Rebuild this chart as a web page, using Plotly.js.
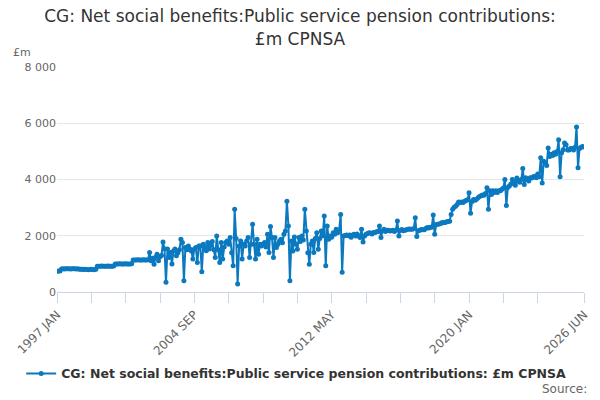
<!DOCTYPE html>
<html>
<head>
<meta charset="utf-8">
<script src="https://cdn.plot.ly/plotly-3.0.1.min.js"></script>
<style>
  html, body { margin: 0; padding: 0; background: #fff; }
  #chart { width: 600px; height: 400px; }
</style>
</head>
<body>
<div id="chart"></div>
<script>
// months of the category axis, 1997 JAN .. 2026 JUN
const firstYear = 1997;
const lastYear = 2026;
const lastMonthCount = 6;
const monthNames = ['JAN', 'FEB', 'MAR', 'APR', 'MAY', 'JUN', 'JUL', 'AUG', 'SEP', 'OCT', 'NOV', 'DEC'];

// £m, one row per year (Jan..Dec)
const pensionContrib = [
  740, 745, 750, 820, 825, 820, 825, 830, 825, 820, 825, 830,             // 1997
  825, 820, 830, 810, 805, 810, 800, 805, 800, 795, 800, 805,             // 1998
  800, 795, 805, 920, 915, 920, 925, 920, 915, 920, 925, 920,             // 1999
  915, 920, 925, 1000, 995, 1000, 1005, 1000, 995, 1000, 1005, 1000,      // 2000
  995, 1000, 1005, 1140, 1135, 1140, 1145, 1140, 1135, 1140, 1145, 1140,  // 2001
  1140, 1145, 1405, 1110, 1200, 990, 1235, 1345, 1110, 1250, 1300, 1780,  // 2002
  1535, 343, 1530, 1230, 1405, 1000, 1460, 1530, 1285, 1400, 1500, 1876,  // 2003
  1760, 400, 1580, 1500, 1640, 1530, 1460, 1170, 1530, 1580, 1050, 1640,  // 2004
  1640, 720, 1700, 1600, 1470, 1760, 1530, 1650, 1800, 1500, 1230, 1993,  // 2005
  1500, 1050, 1760, 1170, 1600, 1760, 1816, 1700, 1935, 1400, 930, 2938,  // 2006
  1900, 283, 1640, 1816, 1170, 1700, 1640, 1816, 1935, 1230, 1700, 2407,  // 2007
  1700, 1170, 1876, 1345, 1700, 1640, 1700, 1760, 1600, 2053, 1405, 2325, // 2008
  1935, 1230, 1935, 1580, 1700, 1816, 1876, 1750, 2053, 2170, 3230, 2350, // 2009
  400, 1816, 1460, 1960, 1700, 1520, 1935, 1800, 1993, 1850, 2940, 2170,  // 2010
  1400, 990, 1700, 1816, 1405, 1900, 2110, 1520, 1900, 2170, 2000, 2700,  // 2011
  930, 2350, 1876, 1993, 1950, 2110, 2050, 2230, 2110, 2200, 2760, 700,   // 2012
  1990, 2010, 2030, 2000, 2030, 1950, 2030, 2050, 1990, 2060, 1990, 1935, // 2013
  2230, 1780, 1990, 2050, 2080, 2110, 2100, 2060, 2120, 2120, 2140, 2150, // 2014
  2350, 1935, 2180, 2230, 2150, 2200, 2200, 2170, 2180, 2200, 2150, 2200, // 2015
  2525, 1990, 2200, 2220, 2180, 2200, 2210, 2230, 2240, 2230, 2230, 2260, // 2016
  2640, 1970, 2180, 2200, 2220, 2210, 2210, 2260, 2290, 2280, 2300, 2300, // 2017
  2740, 2050, 2400, 2407, 2420, 2440, 2470, 2460, 2467, 2500, 2510, 2520, // 2018
  2760, 2940, 3010, 3050, 3115, 3200, 3180, 3200, 3180, 3230, 3250, 3280, // 2019
  3530, 2800, 3220, 3290, 3260, 3300, 3350, 3400, 3420, 3450, 3440, 3500, // 2020
  3706, 2940, 3600, 3470, 3600, 3540, 3600, 3540, 3600, 3600, 3650, 3700, // 2021
  4000, 3080, 3720, 3765, 3840, 4000, 3900, 3800, 4050, 3940, 3900, 4000, // 2022
  4390, 3820, 4060, 4000, 3950, 4060, 4050, 4100, 4120, 4060, 4200, 4100, // 2023
  4770, 3880, 4650, 4600, 4500, 5120, 4820, 4900, 4850, 4950, 4900, 5000, // 2024
  5415, 4100, 4950, 5060, 5300, 5240, 5050, 5050, 5100, 5100, 5050, 5150, // 2025
  5870, 4420, 5100, 5150, 5170, 5160                                      // 2026
];

// axis ticks
const xTickMonths = ['1997 JAN', '1998 DEC', '2000 NOV', '2002 OCT', '2004 SEP', '2006 AUG', '2008 JUL',
  '2010 JUN', '2012 MAY', '2014 APR', '2016 MAR', '2018 FEB', '2020 JAN', '2021 DEC', '2023 NOV', '2026 JUN'];
const xTickLabels = ['1997 JAN', '', '', '', '2004 SEP', '', '', '', '2012 MAY', '', '', '', '2020 JAN', '', '', '2026 JUN'];
const yTickVals = [0, 2000, 4000, 6000, 8000];
const yTickLabels = ['0', '2 000', '4 000', '6 000', '8 000'];

const seriesName = 'CG: Net social benefits:Public service pension contributions: £m CPNSA';
const lineColor = '#0b79c0';

const months = [];
for (let y = firstYear; y <= lastYear; y++) {
  const n = y === lastYear ? lastMonthCount : 12;
  for (let m = 0; m < n; m++) months.push(y + ' ' + monthNames[m]);
}

const font = 'DejaVu Sans, Verdana, sans-serif';

const trace = {
  x: months,
  y: pensionContrib,
  name: '<b>' + seriesName + '</b>',
  type: 'scatter',
  mode: 'lines+markers',
  line: { color: lineColor, width: 2 },
  marker: { color: lineColor, size: 5 },
  hoverinfo: 'skip'
};

const layout = {
  width: 600,
  height: 400,
  margin: { l: 57, r: 16, t: 67, b: 107 },
  paper_bgcolor: '#ffffff',
  plot_bgcolor: '#ffffff',
  font: { family: font, color: '#666666', size: 11 },
  title: {
    text: 'CG: Net social benefits:Public service pension contributions:<br>£m CPNSA',
    font: { family: font, size: 17, color: '#333333' },
    x: 0.5,
    xanchor: 'center',
    yref: 'container',
    y: 0.944,
    yanchor: 'middle'
  },
  xaxis: {
    type: 'category',
    range: [0, months.length - 1],
    tickmode: 'array',
    tickvals: xTickMonths,
    ticktext: xTickLabels,
    tickangle: -45,
    ticks: 'outside',
    ticklen: 10,
    tickcolor: '#ccd6eb',
    showline: true,
    linecolor: '#ccd6eb',
    showgrid: false,
    zeroline: false,
    tickfont: { family: font, size: 12, color: '#666666' }
  },
  yaxis: {
    range: [0, 8000],
    tickmode: 'array',
    tickvals: yTickVals,
    ticktext: yTickLabels,
    showgrid: true,
    gridcolor: '#e6e6e6',
    zeroline: false,
    showline: false,
    ticks: '',
    tickfont: { family: font, size: 11, color: '#666666' }
  },
  showlegend: true,
  legend: {
    orientation: 'h',
    x: -0.068,
    xanchor: 'left',
    y: -0.358,
    yanchor: 'middle',
    font: { family: font, size: 12.5, color: '#333333' }
  },
  annotations: [
    {
      text: '£m',
      xref: 'paper', yref: 'paper',
      x: -0.087, y: 1.066,
      xanchor: 'left', yanchor: 'middle',
      showarrow: false,
      font: { family: font, size: 11, color: '#666666' }
    },
    {
      text: 'Source:',
      xref: 'paper', yref: 'paper',
      x: 1.01, y: -0.43,
      xanchor: 'right', yanchor: 'middle',
      showarrow: false,
      font: { family: font, size: 12, color: '#666666' }
    }
  ]
};

Plotly.newPlot('chart', [trace], layout, { staticPlot: true, displayModeBar: false });
</script>
</body>
</html>
